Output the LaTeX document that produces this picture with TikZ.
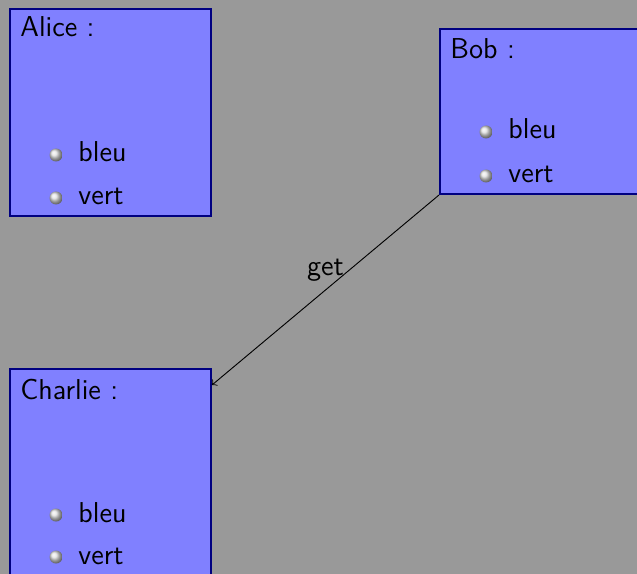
\documentclass[tikz,border=0pt]{standalone}
\usetikzlibrary{calc,shadings}
\def\u{0.4348pt}
\tikzset{
  box/.style={draw=blue!50!black, fill=blue!50, line width=2*\u, rectangle, anchor=north west, inner sep=0pt, minimum width=201*\u},
  txt/.style={anchor=base west, inner sep=0pt, font=\fontsize{12.5}{15}\sffamily},
  ballbullet/.style={circle, inner sep=0pt, minimum size=13*\u, shading=ball, ball color=black!12},
  conn/.style={->, line width=0.4pt}
}
\begin{document}
\begin{tikzpicture}[x=\u, y=-\u]
\fill[black!40] (0,0) rectangle (637,574);
\clip (0,0) rectangle (637,574);
\useasboundingbox (0,0) rectangle (637,574);
% Alice
\node[box, minimum height=207*\u] (alice) at (9,8) {};
\node[txt] (alicet) at (20,37) {Alice :};
\node[ballbullet] (ab1) at (56,155) {};
\node[txt] (ai1) at (78,162) {bleu};
\node[ballbullet] (ab2) at (56,198) {};
\node[txt] (ai2) at (78,205) {vert};
% Bob
\node[box, minimum height=165*\u] (bob) at (439,28) {};
\node[txt] (bobt) at (450,59) {Bob :};
\node[ballbullet] (bb1) at (486,132) {};
\node[txt] (bi1) at (508,139) {bleu};
\node[ballbullet] (bb2) at (486,176) {};
\node[txt] (bi2) at (508,183) {vert};
% Charlie
\node[box, minimum height=207*\u] (charlie) at (9,368) {};
\node[txt] (charliet) at (20,399) {Charlie :};
\node[ballbullet] (cb1) at (56,515) {};
\node[txt] (ci1) at (78,522) {bleu};
\node[ballbullet] (cb2) at (56,557) {};
\node[txt] (ci2) at (78,564) {vert};
% connector
\coordinate (cin) at ($(charlie.north east)+(0,17)$);
\draw[conn] (bob.south west) -- node[above, font=\fontsize{12.5}{15}\sffamily] (getl) {get} (cin);
\end{tikzpicture}
\end{document}
